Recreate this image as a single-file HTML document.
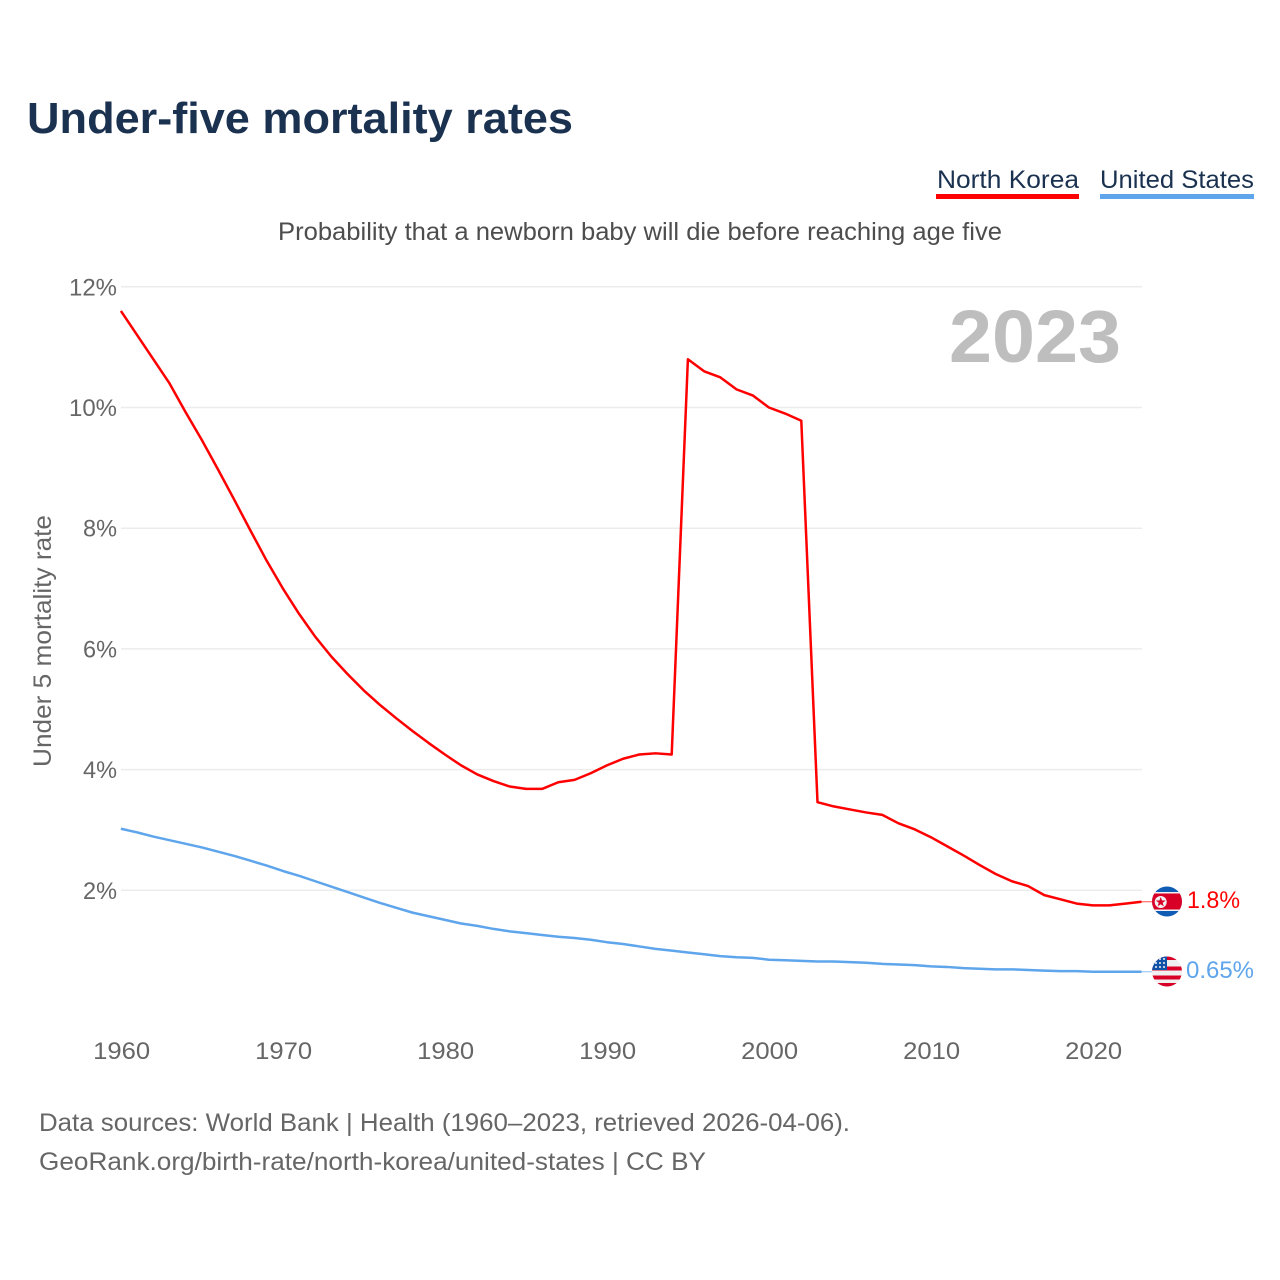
<!DOCTYPE html>
<html>
<head>
<meta charset="utf-8">
<title>Under-five mortality rates</title>
<style>
html,body{margin:0;padding:0;background:#fff;}
svg{display:block;font-family:"Liberation Sans",sans-serif;}
</style>
</head>
<body>
<svg id="chart" width="1280" height="1280" viewBox="0 0 1280 1280" xmlns="http://www.w3.org/2000/svg">
  <rect width="1280" height="1280" fill="#fff"/>
  <text x="27" y="133" font-size="44" font-weight="700" fill="#1a3150" textLength="546" lengthAdjust="spacingAndGlyphs">Under-five mortality rates</text>

  <g>
    <text x="937" y="188" font-size="25" fill="#1a3150" textLength="142" lengthAdjust="spacingAndGlyphs">North Korea</text>
    <rect x="936" y="194" width="143" height="5" fill="#ff0000"/>
  </g>
  <g>
    <text x="1100" y="188" font-size="25" fill="#1a3150" textLength="154" lengthAdjust="spacingAndGlyphs">United States</text>
    <rect x="1100" y="194" width="154" height="5" fill="#5ea5ec"/>
  </g>

  <text x="278" y="240" font-size="25" fill="#4d4d4d" textLength="724" lengthAdjust="spacingAndGlyphs">Probability that a newborn baby will die before reaching age five</text>

  <g id="grid"></g>
  <g id="yticks"></g>
  <g id="xticks"></g>

  <text transform="translate(51,641) rotate(-90)" text-anchor="middle" font-size="25" fill="#666" textLength="252" lengthAdjust="spacingAndGlyphs">Under 5 mortality rate</text>
  <text x="949" y="362" font-size="74" font-weight="700" fill="#bebebe" textLength="172" lengthAdjust="spacingAndGlyphs">2023</text>

  <g id="series"></g>

  <defs>
    <clipPath id="clip-kp"><circle cx="1167" cy="901.5" r="15"/></clipPath>
    <clipPath id="clip-us"><circle cx="1167" cy="971.5" r="15"/></clipPath>
  </defs>
  <g clip-path="url(#clip-kp)">
    <rect x="1152" y="886" width="30" height="31" fill="#0f5cb5"/>
    <rect x="1152" y="892" width="30" height="19" fill="#f2f2f2"/>
    <rect x="1152" y="893.5" width="30" height="16" fill="#d80027"/>
    <circle cx="1160.7" cy="902" r="6" fill="#f2f2f2"/>
    <polygon points="1160.7,897 1162,900.5 1165.7,900.5 1162.7,902.8 1163.8,906.4 1160.7,904.2 1157.6,906.4 1158.7,902.8 1155.7,900.5 1159.4,900.5" fill="#d80027"/>
  </g>
  <g clip-path="url(#clip-us)">
    <rect x="1152" y="956" width="30" height="31" fill="#f0f0f0"/>
    <rect x="1152" y="956" width="30" height="4" fill="#d80027"/>
    <rect x="1152" y="966.5" width="30" height="4" fill="#d80027"/>
    <rect x="1152" y="975.5" width="30" height="4" fill="#d80027"/>
    <rect x="1152" y="983" width="30" height="4" fill="#d80027"/>
    <rect x="1152" y="956" width="15" height="14" fill="#0f52a8"/>
    <g fill="#f2f2f2">
      <circle cx="1156" cy="963" r="1"/><circle cx="1160" cy="959" r="1"/><circle cx="1160" cy="963" r="1"/><circle cx="1164" cy="959" r="1"/><circle cx="1164" cy="963" r="1"/><circle cx="1156" cy="967" r="1"/><circle cx="1160" cy="967" r="1"/><circle cx="1164" cy="967" r="1"/>
    </g>
  </g>
  <text x="1187" y="908" font-size="24" fill="#ff0000" textLength="53" lengthAdjust="spacingAndGlyphs">1.8%</text>
  <text x="1186" y="978" font-size="24" fill="#5ea5ec" textLength="68" lengthAdjust="spacingAndGlyphs">0.65%</text>

  <text x="39" y="1131" font-size="25" fill="#666" textLength="811" lengthAdjust="spacingAndGlyphs">Data sources: World Bank | Health (1960–2023, retrieved 2026-04-06).</text>
  <text x="39" y="1170" font-size="25" fill="#666" textLength="667" lengthAdjust="spacingAndGlyphs">GeoRank.org/birth-rate/north-korea/united-states | CC BY</text>
</svg>
<script>
const years = [1960,1961,1962,1963,1964,1965,1966,1967,1968,1969,1970,1971,1972,1973,1974,1975,1976,1977,1978,1979,1980,1981,1982,1983,1984,1985,1986,1987,1988,1989,1990,1991,1992,1993,1994,1995,1996,1997,1998,1999,2000,2001,2002,2003,2004,2005,2006,2007,2008,2009,2010,2011,2012,2013,2014,2015,2016,2017,2018,2019,2020,2021,2022,2023];
const northKorea = [11.6,11.2,10.8,10.4,9.92,9.46,8.97,8.47,7.96,7.46,7.0,6.58,6.2,5.87,5.58,5.31,5.07,4.85,4.64,4.44,4.25,4.07,3.92,3.81,3.72,3.68,3.68,3.79,3.83,3.94,4.07,4.18,4.25,4.27,4.25,10.8,10.6,10.5,10.3,10.2,10.0,9.9,9.78,3.46,3.39,3.34,3.29,3.25,3.11,3.01,2.88,2.73,2.58,2.42,2.27,2.15,2.07,1.92,1.85,1.78,1.75,1.75,1.78,1.81];
const unitedStates = [3.02,2.96,2.89,2.83,2.77,2.71,2.64,2.57,2.49,2.41,2.32,2.24,2.15,2.06,1.97,1.88,1.79,1.71,1.63,1.57,1.51,1.45,1.41,1.36,1.32,1.29,1.26,1.23,1.21,1.18,1.14,1.11,1.07,1.03,1.0,0.97,0.94,0.91,0.89,0.88,0.85,0.84,0.83,0.82,0.82,0.81,0.8,0.78,0.77,0.76,0.74,0.73,0.71,0.7,0.69,0.69,0.68,0.67,0.66,0.66,0.65,0.65,0.65,0.65];
const yTickValues = [2,4,6,8,10,12];
const xTickValues = [1960,1970,1980,1990,2000,2010,2020];

const NS = 'http://www.w3.org/2000/svg';
const xScale = function (yr) { return 120.9 + (yr - 1960) * 16.2; };
const yScale = function (v) { return 1011 - v * 60.35; };

function make(tag, parent, attrs) {
  const el = document.createElementNS(NS, tag);
  for (const k in attrs) el.setAttribute(k, attrs[k]);
  parent.appendChild(el);
  return el;
}

const grid = document.getElementById('grid');
const yticks = document.getElementById('yticks');
const xticks = document.getElementById('xticks');
const seriesGroup = document.getElementById('series');

yTickValues.forEach(function (v) {
  const line = make('line', grid, {x1: 121, x2: 1142, y1: yScale(v), y2: yScale(v), stroke: '#ececec', 'stroke-width': 1.5});
  
  
  const label = make('text', yticks, {x: 117, y: yScale(v) + 8.5, 'text-anchor': 'end', 'font-size': 24, fill: '#666', textLength: v >= 10 ? 48 : 34, lengthAdjust: 'spacingAndGlyphs'});
  
  
  label.textContent = v + '%';
});

xTickValues.forEach(function (yr) {
  const label = make('text', xticks, {x: xScale(yr) + 0.7, y: 1059, 'text-anchor': 'middle', 'font-size': 24, fill: '#666', textLength: 57, lengthAdjust: 'spacingAndGlyphs'});
  
  
  label.textContent = yr;
});

function drawSeries(name, values, color) {
  const pts = values.map(function (v, i) { return xScale(years[i]).toFixed(2) + ',' + yScale(v).toFixed(2); });
  const line = make('polyline', seriesGroup, {points: pts.join(' '), fill: 'none', stroke: color, 'stroke-width': 2.5, 'stroke-linejoin': 'round'});
  
  
  const last = values[values.length - 1];
  const lastX = xScale(years[years.length - 1]);
  const leader = make('line', seriesGroup, {x1: lastX, x2: 1152, y1: yScale(last), y2: yScale(last), stroke: color, 'stroke-width': 1, opacity: 0.7});
  
  
}
drawSeries('north-korea', northKorea, '#ff0000');
drawSeries('united-states', unitedStates, '#5ea5ec');
</script>
</body>
</html>
